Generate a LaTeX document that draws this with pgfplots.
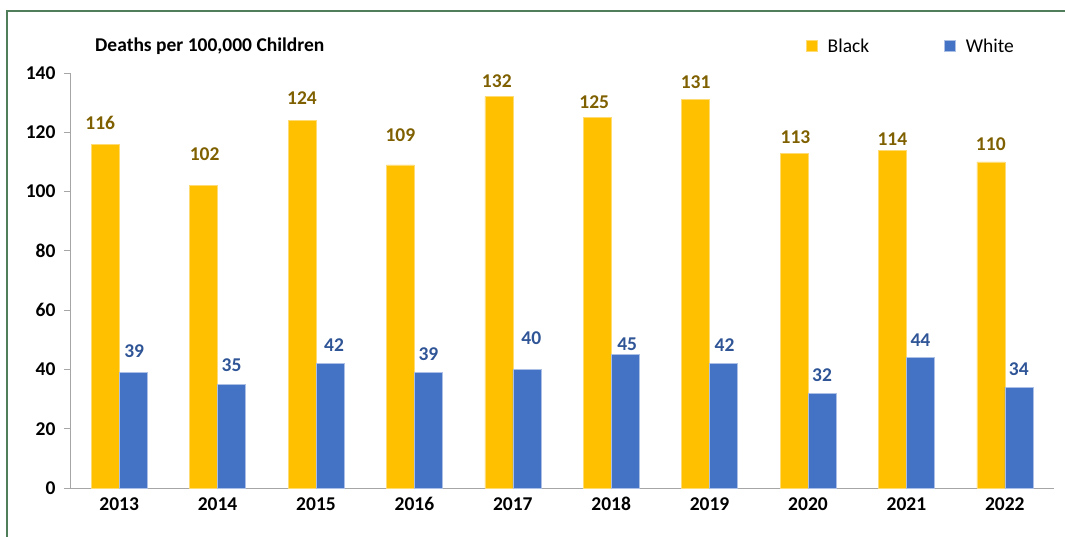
\documentclass[border=0pt]{standalone}
\usepackage{fontspec}
\setmainfont{Carlito}
\usepackage{pgfplots}
\usepackage{pgfplotstable}
\pgfplotsset{compat=1.18}
\definecolor{framegreen}{RGB}{80,125,90}
\definecolor{byel}{RGB}{255,192,0}
\definecolor{bblue}{RGB}{68,114,196}
\definecolor{lyel}{RGB}{127,96,0}
\definecolor{lblue}{RGB}{47,85,151}
\definecolor{axgray}{RGB}{166,166,166}
\newcommand{\ff}{\fontsize{19.5}{23}\selectfont}
\pgfplotstableread{
x y dx dy
0 116 -5 14
1 102 1 25
2 124 0 16
3 109 0 23
4 132 -2 9
5 125 -3 9
6 131 0 11
7 113 1.5 9
8 114 0 4
9 110 0 11
}\blackdata
\pgfplotstableread{
x y dx dy
0 39 1 15
1 35 0 12
2 42 4 12
3 39 0 12
4 40 4.5 25
5 45 2 4
6 42 1 12
7 32 0 11
8 44 0 11
9 34 0 11
}\whitedata
\begin{document}
\begin{tikzpicture}[x=1pt,y=1pt]
\useasboundingbox (0,0) rectangle (1065,536);
\draw[framegreen, line width=2pt] (7,-5) -- (7,525) -- (1070,525);
\node[anchor=base west, font=\ff\bfseries, inner sep=0pt] at (95,484.5) {Deaths per 100,000 Children};
\begin{axis}[
  at={(70pt,48pt)}, anchor=south west, scale only axis,
  width=984pt, height=415pt,
  xmin=-0.5, xmax=9.5, ymin=0, ymax=140,
  ytick={0,20,...,140},
  xtick={0,...,9},
  xticklabels={2013,2014,2015,2016,2017,2018,2019,2020,2021,2022},
  extra x ticks={-0.5,0.5,...,9.5},
  extra x tick labels={},
  extra x tick style={major tick style={draw=axgray, line width=0.8pt}},
  major x tick style={draw=none},
  major tick length=6pt,
  tick align=outside,
  axis x line*=bottom, axis y line*=left,
  axis line style={draw=axgray, line width=0.8pt, -},
  ytick style={draw=axgray, line width=0.8pt},
  /pgf/number format/assume math mode=true,
  tick label style={font=\ff\bfseries, text=black},
  yticklabel style={xshift=-5pt},
  ybar=0pt, bar width=28pt,
  nodes near coords,
  visualization depends on={\thisrow{dx} \as \labdx},
  visualization depends on={\thisrow{dy} \as \labdy},
  every node near coord/.append style={font=\ff\bfseries, anchor=south, inner sep=0pt,
    xshift=\labdx pt, yshift=\labdy pt},
  legend columns=2,
  legend style={draw=none, fill=none, at={(0.748,1.065)}, anchor=west, inner sep=0pt,
    font=\ff, nodes={inner xsep=0pt},
    /tikz/every odd column/.append style={column sep=10pt},
    /tikz/every even column/.append style={column sep=75pt}},
  legend image code/.code={\fill[#1] (0pt,-5.5pt) rectangle (11pt,5.5pt);},
]
\addplot[fill=byel, draw=byel!55!white, line width=0.5pt, every node near coord/.append style={text=lyel}] table[x=x, y=y] {\blackdata};
\addlegendentry{Black}
\addplot[fill=bblue, draw=bblue!45!white, line width=0.5pt, every node near coord/.append style={text=lblue}] table[x=x, y=y] {\whitedata};
\addlegendentry{White}
\end{axis}
\end{tikzpicture}
\end{document}
